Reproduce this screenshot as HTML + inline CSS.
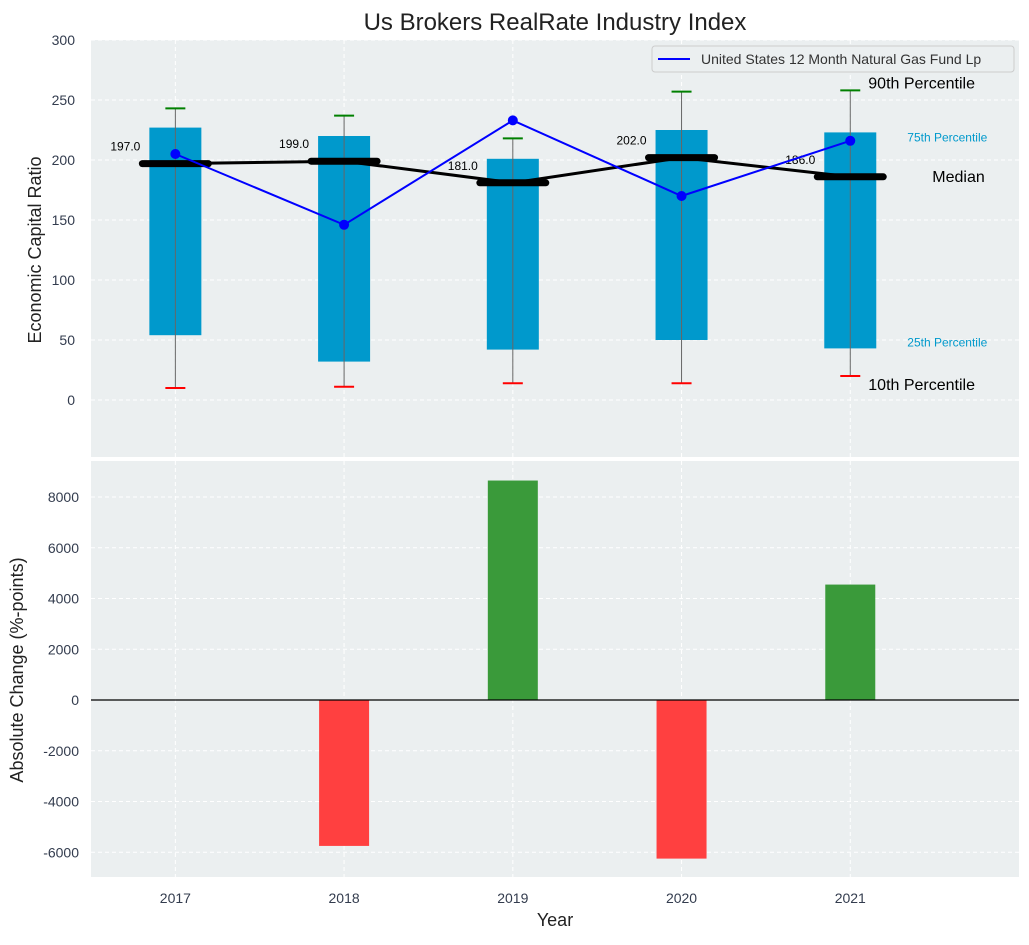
<!DOCTYPE html>
<html><head><meta charset="utf-8"><style>
body{margin:0;background:#fff;font-family:"Liberation Sans",sans-serif}
svg text{font-family:"Liberation Sans",sans-serif}
</style></head><body>
<svg id="c" width="1029" height="940" xmlns="http://www.w3.org/2000/svg"></svg>
<script>
const years=[2017,2018,2019,2020,2021];
const p25=[54,32,42,50,43];
const p75=[227,220,201,225,223];
const p10=[10,11,14,14,20];
const p90=[243,237,218,257,258];
const medians=[197,199,181,202,186];
const fund=[205,146,233,170,216];
const changes=[0,-5750,8650,-6250,4550];
const topTicks=[0,50,100,150,200,250,300];
const botTicks=[-6000,-4000,-2000,0,2000,4000,6000,8000];

const NS="http://www.w3.org/2000/svg";
const svg=document.getElementById('c');
function el(t,a,p){const e=document.createElementNS(NS,t);for(const k in a)e.setAttribute(k,a[k]);(p||svg).appendChild(e);return e;}
const L=91,R=1019;
const x=v=>L+(v-2016.5)/(2022-2016.5)*(R-L);
const T0=40,T1=457; const yT=v=>T0+(300-v)/(300-(-47.5))*(T1-T0);
const B0=461,B1=877; const BMAX=9420,BMIN=-6975; const yB=v=>B0+(BMAX-v)/(BMAX-BMIN)*(B1-B0);

let e=el('rect',{x:L,y:T0,width:R-L,height:T1-T0,fill:'#ebeff0'});

e=el('rect',{x:L,y:B0,width:R-L,height:B1-B0,fill:'#ebeff0'});


for(const t of topTicks){const yy=yT(t);
 el('line',{x1:L,x2:R,y1:yy,y2:yy,stroke:'#fff','stroke-dasharray':'4,3'});
 e=el('text',{x:L-16,y:yy+5,'text-anchor':'end','font-size':14,fill:'#333c4e'});e.textContent=t;
 }
for(const t of botTicks){const yy=yB(t);
 el('line',{x1:L,x2:R,y1:yy,y2:yy,stroke:'#fff','stroke-dasharray':'4,3'});
 e=el('text',{x:L-12,y:yy+5,'text-anchor':'end','font-size':14,fill:'#333c4e'});e.textContent=t;
 }
years.forEach(yr=>{const xx=x(yr);
 el('line',{x1:xx,x2:xx,y1:T0,y2:T1,stroke:'#fff','stroke-dasharray':'4,3'});
 el('line',{x1:xx,x2:xx,y1:B0,y2:B1,stroke:'#fff','stroke-dasharray':'4,3'});
 e=el('text',{x:xx,y:903,'text-anchor':'middle','font-size':14,fill:'#333c4e'});e.textContent=yr;
 });

years.forEach((yr,i)=>{const xx=x(yr);
 e=el('rect',{x:xx-26,y:yT(p75[i]),width:52,height:yT(p25[i])-yT(p75[i]),fill:'#0099cc'});
 
 el('line',{x1:xx,x2:xx,y1:yT(p90[i]),y2:yT(p10[i]),stroke:'#666','stroke-width':1});
 el('line',{x1:xx-10,x2:xx+10,y1:yT(p90[i]),y2:yT(p90[i]),stroke:'green','stroke-width':2});
 el('line',{x1:xx-10,x2:xx+10,y1:yT(p10[i]),y2:yT(p10[i]),stroke:'red','stroke-width':2});
});
e=el('polyline',{points:years.map((yr,i)=>x(yr)+','+yT(medians[i])).join(' '),fill:'none',stroke:'#000','stroke-width':3});

years.forEach((yr,i)=>{const xx=x(yr),yy=yT(medians[i]);
 e=el('line',{x1:xx-33,x2:xx+33,y1:yy,y2:yy,stroke:'#000','stroke-width':7,'stroke-linecap':'round'});
 
 e=el('text',{x:xx-35,y:yy-13,'text-anchor':'end','font-size':12,fill:'#000'});e.textContent=medians[i].toFixed(1);
 });
e=el('polyline',{points:years.map((yr,i)=>x(yr)+','+yT(fund[i])).join(' '),fill:'none',stroke:'blue','stroke-width':2});

years.forEach((yr,i)=>{e=el('circle',{cx:x(yr),cy:yT(fund[i]),r:5,fill:'blue'});
 });

const last=years.length-1,lx=x(years[last]);
function ann(t,xx,yy,fs,col,n){e=el('text',{x:xx,y:yy,'font-size':fs,fill:col});e.textContent=t;}
ann('90th Percentile',lx+18,yT(p90[last])-2,16,'#000','p90-annotation');
ann('75th Percentile',lx+57,yT(p75[last])+9,12,'#0099cc','p75-annotation');
ann('Median',lx+82,yT(medians[last])+5,16,'#000','median-annotation');
ann('25th Percentile',lx+57,yT(p25[last])-2,12,'#0099cc','p25-annotation');
ann('10th Percentile',lx+18,yT(p10[last])+14,16,'#000','p10-annotation');

e=el('g',{});
el('rect',{x:652,y:46,width:362,height:26,fill:'#ebeff0',stroke:'#ccc',rx:3},e);
el('line',{x1:658,x2:690,y1:59,y2:59,stroke:'blue','stroke-width':2},e);
const lt=el('text',{x:701,y:64,'font-size':14,fill:'#333'},e);lt.textContent='United States 12 Month Natural Gas Fund Lp';

years.forEach((yr,i)=>{const v=changes[i];if(!v)return;const xx=x(yr);
 const y1=yB(Math.max(v,0)),y2=yB(Math.min(v,0));
 e=el('rect',{x:xx-25,y:y1,width:50,height:y2-y1,fill:v>0?'#3a9a3a':'#ff4040'});
 });
el('line',{x1:L,x2:R,y1:yB(0),y2:yB(0),stroke:'#000','stroke-width':1.2});

e=el('text',{x:555,y:30,'text-anchor':'middle','font-size':24,fill:'#222'});e.textContent='Us Brokers RealRate Industry Index';

e=el('text',{x:555,y:926,'text-anchor':'middle','font-size':18,fill:'#222'});e.textContent='Year';

e=el('text',{x:41,y:250,'text-anchor':'middle','font-size':18,fill:'#222',transform:'rotate(-90 41 250)'});e.textContent='Economic Capital Ratio';

e=el('text',{x:23,y:670,'text-anchor':'middle','font-size':18,fill:'#222',transform:'rotate(-90 23 670)'});e.textContent='Absolute Change (%-points)';

</script>
</body></html>
